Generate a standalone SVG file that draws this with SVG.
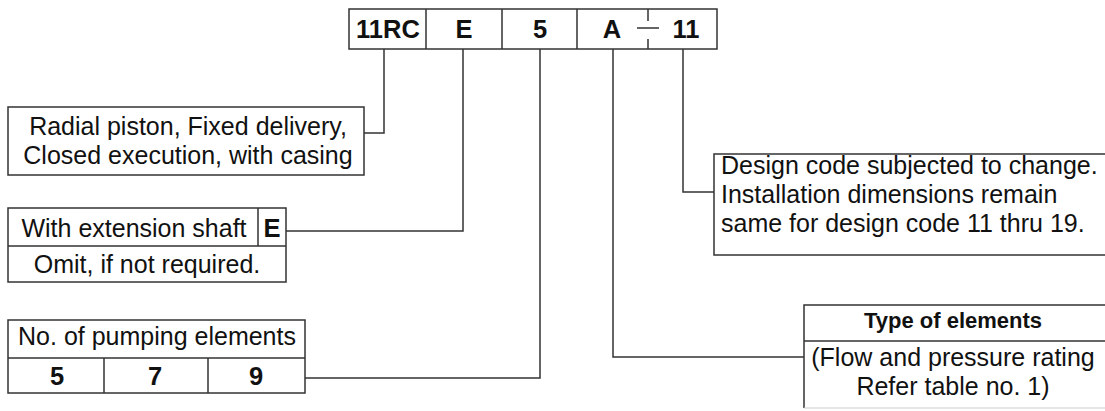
<svg xmlns="http://www.w3.org/2000/svg" width="1105" height="411" viewBox="0 0 1105 411">
<style>
.b{fill:#fff;stroke:#333;stroke-width:1.5}
.l{fill:none;stroke:#333;stroke-width:1.5}
.t{font-family:"Liberation Sans",Arial,sans-serif;font-size:25px;fill:#111}
.c{text-anchor:middle}
.bd{font-weight:bold;font-size:25.5px}
</style>
<rect width="1105" height="411" fill="#fff"/>
<g id="code">
<rect class="b" x="349" y="9" width="368" height="40"/>
<path class="l" d="M426 9V49M502 9V49M577 9V49M648 9V21M648 39V49M637 28H659"/>
<text class="t c bd" x="388" y="38">11RC</text>
<text class="t c bd" x="464" y="38">E</text>
<text class="t c bd" x="540" y="38">5</text>
<text class="t c bd" x="612" y="38">A</text>
<text class="t c bd" x="686" y="38">11</text>
</g>
<g id="connectors">
<path class="l" d="M384 49V133H364"/>
<path class="l" d="M463 49V231H286"/>
<path class="l" d="M540 49V378H305"/>
<path class="l" d="M613 49V357H804"/>
<path class="l" d="M683 49V192H714"/>
</g>
<g id="type-box">
<rect class="b" x="8" y="107" width="356" height="68"/>
<text class="t c" x="188" y="135">Radial piston, Fixed delivery,</text>
<text class="t c" x="188" y="164">Closed execution, with casing</text>
</g>
<g id="shaft-box">
<rect class="b" x="8" y="208" width="278" height="74"/>
<path class="l" d="M8 246H286M258 208V246"/>
<text class="t c" x="134" y="237">With extension shaft</text>
<text class="t c bd" x="272" y="237">E</text>
<text class="t c" x="147" y="273">Omit, if not required.</text>
</g>
<g id="elements-box">
<rect class="b" x="8" y="320" width="297" height="73"/>
<path class="l" d="M8 358H305M104 358V393M208 358V393"/>
<text class="t c" x="157" y="345">No. of pumping elements</text>
<text class="t c bd" x="57" y="385">5</text>
<text class="t c bd" x="155" y="385">7</text>
<text class="t c bd" x="256" y="385">9</text>
</g>
<g id="design-box">
<rect class="b" x="714" y="154" width="400" height="101"/>
<text class="t" x="721" y="174">Design code subjected to change.</text>
<text class="t" x="721" y="203">Installation dimensions remain</text>
<text class="t" x="721" y="232">same for design code 11 thru 19.</text>
</g>
<g id="elements-type-box">
<rect fill="#fff" x="804" y="305" width="310" height="103"/>
<path class="l" d="M804 408V305H1106M804 341H1106"/>
<path fill="none" stroke="#ccc" stroke-width="1" d="M804 408H1106"/>
<text class="t c bd" x="953" y="328" style="font-size:22px">Type of elements</text>
<text class="t c" x="953" y="366">(Flow and pressure rating</text>
<text class="t c" x="953" y="395">Refer table no. 1)</text>
</g>
</svg>
